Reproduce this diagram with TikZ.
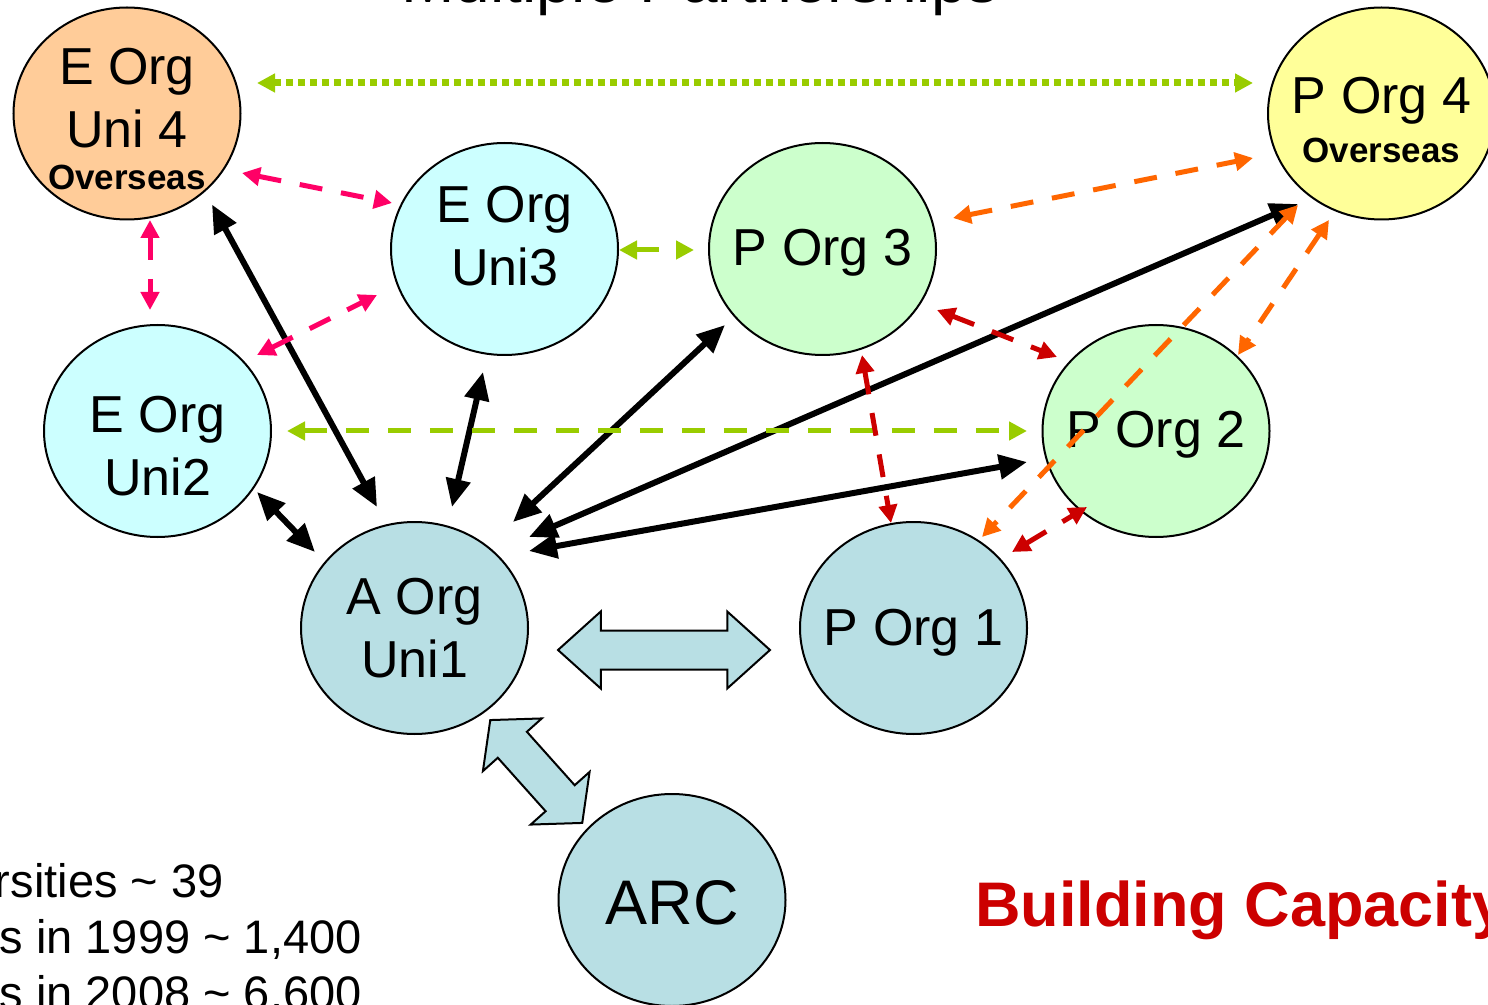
\documentclass[tikz,border=0pt]{standalone}
\usepackage{fontspec}
\setmainfont{Liberation Sans}
\usetikzlibrary{arrows.meta,shapes.geometric,shapes.arrows,calc}
\definecolor{peach}{HTML}{FFCC99}
\definecolor{icecyan}{HTML}{CCFFFF}
\definecolor{palegreen}{HTML}{CCFFCC}
\definecolor{paleyellow}{HTML}{FFFF99}
\definecolor{arcblue}{HTML}{B8DFE4}
\definecolor{linkpink}{HTML}{FF0066}
\definecolor{linklime}{HTML}{99CC00}
\definecolor{linkorange}{HTML}{FF6600}
\definecolor{linkred}{HTML}{CC0000}
\newcommand{\oversea}{{\bfseries\fontsize{17.5}{21}\selectfont Overseas}}
\tikzset{
  org/.style={ellipse, draw, line width=1pt, minimum width=113.5pt, minimum height=106pt, inner sep=0pt},
  every label/.style={align=center, inner sep=0pt, font=\fontsize{26}{31.5}\selectfont},
  blk/.style={line width=3pt, {Triangle[length=14pt,width=12pt]}-{Triangle[length=14pt,width=12pt]}},
  lnk/.style={line width=2.5pt, dash pattern=on 11.5pt off 9.5pt,
    {Triangle[length=9pt,width=9pt]}-{Triangle[length=9pt,width=9pt]}},
  dotlnk/.style={line width=3.5pt, dash pattern=on 3.5pt off 2.5pt,
    {Triangle[length=9pt,width=9pt]}-{Triangle[length=9pt,width=9pt]}},
  fat/.style={double arrow, draw, line width=1pt, fill=arcblue, inner xsep=0pt, inner ysep=9.25pt},
  txt/.style={inner sep=0pt, font=\fontsize{23.5}{28}\selectfont}
}
\begin{document}
\begin{tikzpicture}[x=0.5pt, y=-0.5pt]
            \useasboundingbox (0,0) rectangle (1488,1005);
            % organisations
            \node[org, fill=peach, label={[yshift=-3pt]center:E Org\\Uni 4\\[-10.5pt]\oversea}] (eu4) at (127,113.5) {};
            \node[org, fill=icecyan, label={[yshift=6.5pt]center:E Org\\Uni3}] (eu3) at (504.5,249) {};
            \node[org, fill=palegreen, label={[yshift=-2pt]center:P Org 3}] (p3) at (822.5,249) {};
            \node[org, fill=paleyellow, label={[yshift=-3.5pt]center:P Org 4\\[-7pt]\oversea}] (p4) at (1381.5,113.5) {};
            \node[org, fill=icecyan, label={[yshift=-7.5pt]center:E Org\\Uni2}] (eu2) at (157.5,431) {};
            \node[org, fill=palegreen, label={[yshift=-2pt]center:P Org 2}] (p2) at (1156,431) {};
            \node[org, fill=arcblue, label={center:A Org\\Uni1}] (a1) at (414.5,628) {};
            \node[org, fill=arcblue, label={[yshift=-2.5pt]center:P Org 1}] (p1) at (913.5,628) {};
            \node[org, fill=arcblue, label={[yshift=-1.5pt, font=\fontsize{31.5}{38}\selectfont]center:ARC}] (arc) at (672,900) {};
            % big arrows
            \node[fat, minimum height=106pt, minimum width=37.5pt, double arrow head extend=9.5pt,
              double arrow tip angle=84] (ap) at ($(a1)!0.5!(p1)+(0,22)$) {};
            \node[fat, minimum height=69pt, minimum width=38.5pt, double arrow head extend=10pt,
              double arrow tip angle=100, rotate=-48.2] (aa) at ($(a1)!0.5!(arc)+(-7,7.5)$) {};
            % main links
            \draw[blk] ($(eu4)+(85,91)$) -- ($(a1)+(-37.5,-121)$);
            \draw[blk] ($(eu3)+(-21.5,123)$) -- ($(a1)+(37.5,-121)$);
            \draw[blk] ($(eu2)+(99.5,61)$) -- ($(a1)+(-99.5,-76)$);
            \draw[blk] ($(p3)+(-97.5,76)$) -- ($(a1)+(98.5,-106)$);
            \draw[blk] ($(p4)+(-83.5,90.5)$) -- ($(a1)+(114.5,-91)$);
            \draw[blk] ($(p2)+(-129,31)$) -- ($(a1)+(114.5,-77)$);
            % education links
            \draw[lnk, linkpink] ($(eu4)+(115,59.5)$) -- ($(eu3)+(-112.5,-46)$);
            \draw[lnk, linkpink] ($(eu4)+(23,106.5)$) -- ($(eu2)+(-7.5,-121)$);
            \draw[lnk, linkpink] ($(eu2)+(99.5,-76)$) -- ($(eu3)+(-127.5,46)$);
            \draw[lnk, linklime] ($(eu3)+(114.5,1)$) -- ($(p3)+(-128.5,1)$);
            \draw[lnk, linklime] ($(eu2)+(129.5,0)$) -- ($(p2)+(-129,0)$);
            % partner links
            \draw[lnk, linkred] ($(p3)+(114.5,61)$) -- ($(p2)+(-99,-74)$);
            \draw[lnk, linkred] ($(p3)+(39.5,106)$) -- ($(p1)+(-22.5,-105)$);
            \draw[lnk, linkred] ($(p1)+(98.5,-76)$) -- ($(p2)+(-69,76)$);
            % overseas links
            \draw[dotlnk, linklime] ($(eu4)+(130,-30.5)$) -- ($(p4)+(-128.5,-30.5)$);
            \draw[lnk, linkorange] ($(p3)+(130.5,-31)$) -- ($(p4)+(-128.5,44.5)$);
            \draw[lnk, linkorange] ($(p4)+(-52.5,106.5)$) -- ($(p2)+(82,-76)$);
            \draw[lnk, linkorange] ($(p4)+(-83.5,91.5)$) -- ($(p1)+(68.5,-91)$);
            % texts
            \node[txt, anchor=base, font=\fontsize{32}{38}\selectfont] (title) at (700,3) {Multiple Partnerships};
            \node[txt, anchor=base east] (unis) at (224,897) {Universities \textasciitilde{} 39};
            \node[txt, anchor=base east] (y1999) at (362,953) {Students in 1999 \textasciitilde{} 1,400};
            \node[txt, anchor=base east] (y2008) at (362,1009) {Students in 2008 \textasciitilde{} 6,600};
            \node[txt, anchor=base west, text=linkred, font=\bfseries\fontsize{31.5}{38}\selectfont] (cap) at (975,926) {Building Capacity};
          \end{tikzpicture}
\end{document}
